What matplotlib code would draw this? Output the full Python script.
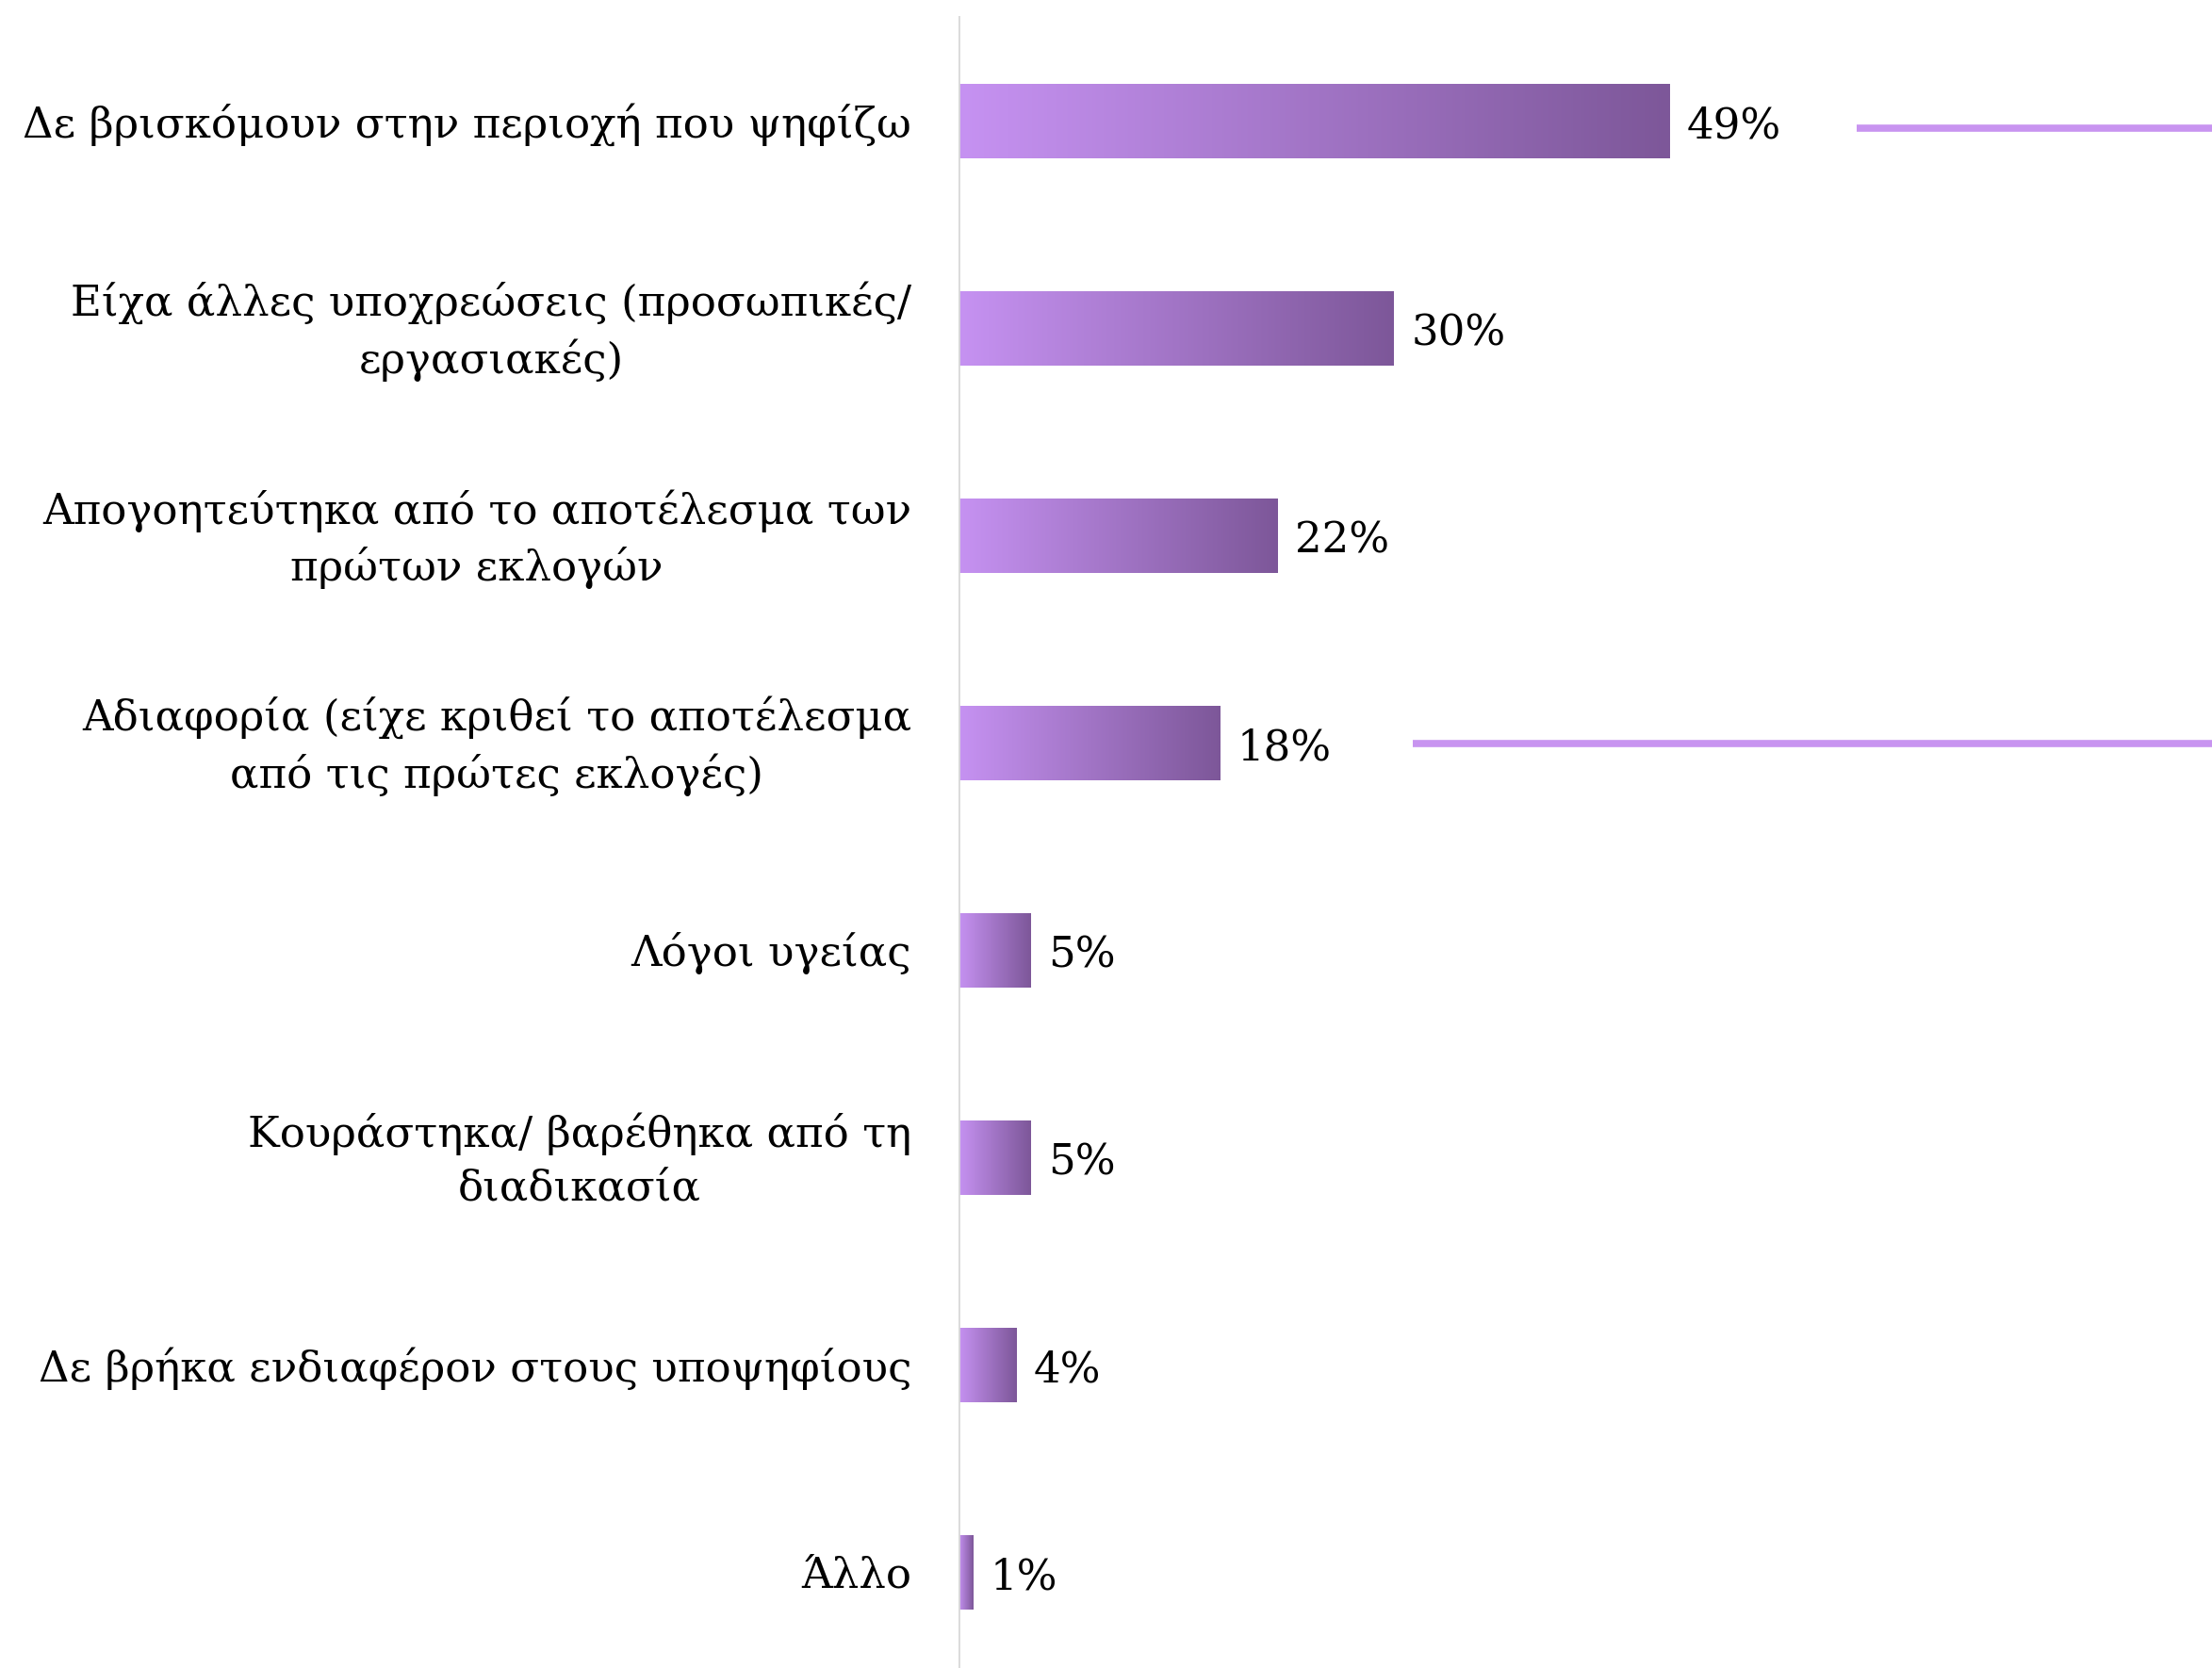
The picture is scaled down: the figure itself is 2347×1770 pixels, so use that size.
import numpy as np
import matplotlib
matplotlib.use("Agg")
import matplotlib.pyplot as plt
from matplotlib.colors import LinearSegmentedColormap

categories = [
    "Δε βρισκόμουν στην περιοχή που ψηφίζω",
    "Είχα άλλες υποχρεώσεις (προσωπικές/\nεργασιακές)",
    "Απογοητεύτηκα από το αποτέλεσμα των\nπρώτων εκλογών",
    "Αδιαφορία (είχε κριθεί το αποτέλεσμα\nαπό τις πρώτες εκλογές)",
    "Λόγοι υγείας",
    "Κουράστηκα/ βαρέθηκα από τη\nδιαδικασία",
    "Δε βρήκα ενδιαφέρον στους υποψηφίους",
    "Άλλο",
]
values = [49, 30, 22, 18, 5, 5, 4, 1]
value_labels = ["49%", "30%", "22%", "18%", "5%", "5%", "4%", "1%"]

W, H = 2347, 1770
fig = plt.figure(figsize=(W / 100, H / 100), dpi=100)
ax_left = 1017 / W
ax = fig.add_axes([ax_left, 0.0, 1 - ax_left, 1 - 17 / H])

xmax = 86.4
ax.set_xlim(0, xmax)
ax.set_ylim(len(categories) - 1 + 0.46, -0.507)

cmap = LinearSegmentedColormap.from_list("grad", ["#c692f2", "#7d5799"])
grad = np.linspace(0, 1, 256).reshape(1, -1)
bh = 0.355
font = "DejaVu Serif"
fs = 32.5

for i, (v, lab) in enumerate(zip(values, value_labels)):
    ax.imshow(grad, cmap=cmap, aspect="auto", interpolation="bilinear",
              extent=[0, v, i + bh / 2, i - bh / 2], zorder=2)
    ax.text(v + 1.2, i + 0.025, lab, va="center", ha="left",
            fontsize=fs, family=font, color="black")
    ax.text(-3.25, i + 0.015, categories[i], va="center", ha="right",
            multialignment="center", fontsize=fs, family=font,
            color="black", linespacing=1.42)

ax.set_xlim(0, xmax)
ax.set_ylim(len(categories) - 1 + 0.46, -0.507)

# decorative lines at right
ax.plot([61.9, xmax], [0.034, 0.034], color="#c894f0", lw=5.5,
        solid_capstyle="butt", clip_on=False, zorder=1)
ax.plot([31.3, xmax], [3, 3], color="#c894f0", lw=5.5,
        solid_capstyle="butt", clip_on=False, zorder=1)

ax.axvline(0, color="#d9d9d9", lw=2, zorder=3)
for s in ax.spines.values():
    s.set_visible(False)
ax.set_xticks([])
ax.set_yticks([])
ax.patch.set_alpha(0)

fig.savefig("out.png", dpi=100, facecolor="white")
